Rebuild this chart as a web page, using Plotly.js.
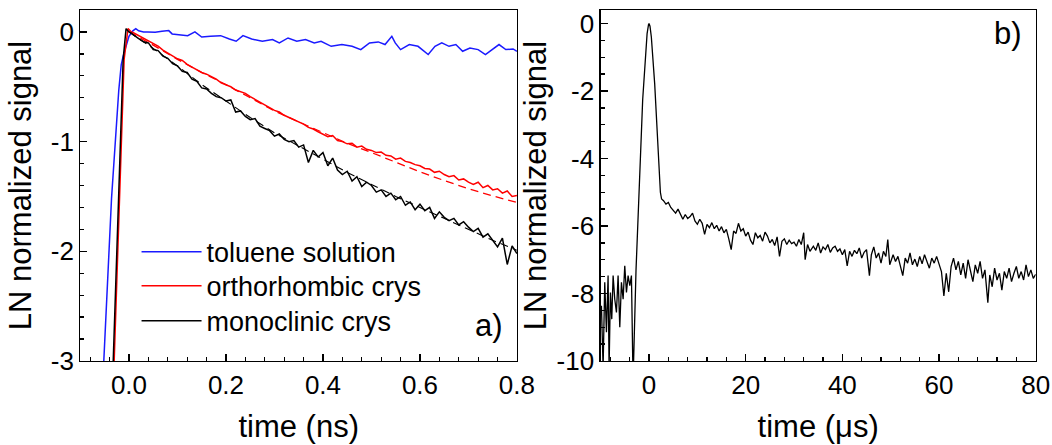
<!DOCTYPE html>
<html>
<head>
<meta charset="utf-8">
<script src="https://cdn.plot.ly/plotly-3.0.1.min.js"></script>
<style>html,body{margin:0;padding:0;background:#fff}#chart{width:1052px;height:445px}</style>
</head>
<body>
<div id="chart"></div>
<script>
// ---------- panel a) : time in ns ----------
var tolueneX = [-0.053,-0.036,-0.021,-0.016,-0.012,-0.006,0.0,0.008,0.014,0.02,0.03,0.039,0.054,0.068,0.082,0.089,0.103,0.121,0.136,0.15,0.168,0.189,0.207,0.221,0.235,0.253,0.275,0.296,0.31,0.328,0.346,0.364,0.382,0.396,0.417,0.439,0.46,0.478,0.496,0.514,0.528,0.542,0.549,0.56,0.578,0.596,0.617,0.631,0.645,0.66,0.674,0.688,0.703,0.72,0.735,0.749,0.763,0.777,0.792,0.8];
var tolueneY = [-3.1,-1.52,-0.53,-0.3,-0.22,-0.12,-0.04,0.01,0.03,0.01,0.0,0.0,-0.002,0.006,0.012,-0.018,-0.025,-0.034,0.0,-0.046,-0.04,-0.034,-0.064,-0.085,-0.034,-0.064,-0.085,-0.07,-0.1,-0.055,-0.085,-0.07,-0.1,-0.085,-0.131,-0.115,-0.131,-0.161,-0.1,-0.091,-0.115,-0.04,-0.1,-0.161,-0.115,-0.131,-0.206,-0.131,-0.1,-0.131,-0.115,-0.176,-0.146,-0.161,-0.206,-0.161,-0.115,-0.161,-0.155,-0.176];

var orthoX = [-0.032,-0.010,-0.002,0.005,0.01,0.02,0.03,0.04,0.05,0.06,0.07,0.08,0.09,0.10,0.11,0.12,0.13,0.14,0.15,0.16,0.17,0.18,0.19,0.20,0.21,0.22,0.23,0.24,0.25,0.26,0.27,0.28,0.29,0.30,0.31,0.32,0.33,0.34,0.35,0.36,0.37,0.38,0.39,0.40,0.41,0.42,0.43,0.44,0.45,0.46,0.47,0.48,0.49,0.50,0.51,0.52,0.53,0.54,0.55,0.56,0.57,0.58,0.59,0.60,0.61,0.62,0.63,0.64,0.65,0.66,0.67,0.68,0.69,0.70,0.71,0.72,0.73,0.74,0.75,0.76,0.77,0.78,0.79,0.80];
var orthoY = [-3.2,-0.25,0.03,0.0,-0.01,-0.035,-0.06,-0.085,-0.11,-0.13,-0.165,-0.19,-0.215,-0.245,-0.26,-0.295,-0.32,-0.345,-0.37,-0.385,-0.41,-0.43,-0.465,-0.48,-0.50,-0.53,-0.545,-0.56,-0.59,-0.615,-0.64,-0.66,-0.69,-0.715,-0.73,-0.76,-0.78,-0.80,-0.825,-0.84,-0.87,-0.885,-0.91,-0.93,-0.955,-0.945,-0.99,-1.00,-1.02,-1.015,-1.05,-1.04,-1.07,-1.08,-1.10,-1.095,-1.125,-1.13,-1.16,-1.15,-1.18,-1.19,-1.21,-1.22,-1.245,-1.25,-1.28,-1.27,-1.30,-1.32,-1.31,-1.35,-1.34,-1.37,-1.39,-1.37,-1.42,-1.40,-1.44,-1.43,-1.47,-1.45,-1.50,-1.49];

var orthoFitX = [0.0,0.05,0.1,0.15,0.2,0.25,0.3,0.35,0.4,0.45,0.5,0.55,0.6,0.65,0.7,0.75,0.8];
var orthoFitY = [0.0,-0.12,-0.25,-0.37,-0.48,-0.60,-0.72,-0.82,-0.92,-1.015,-1.10,-1.19,-1.275,-1.355,-1.43,-1.495,-1.555];

var monoX = [-0.034,-0.012,-0.006,0.0,0.005,0.01,0.02,0.03,0.04,0.05,0.06,0.07,0.08,0.09,0.10,0.11,0.12,0.13,0.14,0.15,0.16,0.17,0.18,0.19,0.20,0.21,0.22,0.23,0.24,0.25,0.26,0.27,0.28,0.29,0.30,0.31,0.32,0.33,0.34,0.35,0.36,0.37,0.38,0.39,0.40,0.41,0.42,0.43,0.44,0.45,0.46,0.47,0.48,0.49,0.50,0.51,0.52,0.53,0.54,0.55,0.56,0.57,0.58,0.59,0.60,0.61,0.62,0.63,0.64,0.65,0.66,0.67,0.68,0.69,0.70,0.71,0.72,0.73,0.74,0.75,0.76,0.77,0.78,0.79,0.80];
var monoY = [-3.2,-0.25,0.03,0.0,-0.01,-0.03,-0.06,-0.09,-0.10,-0.16,-0.17,-0.22,-0.24,-0.29,-0.31,-0.36,-0.37,-0.43,-0.45,-0.51,-0.52,-0.56,-0.59,-0.60,-0.63,-0.62,-0.73,-0.72,-0.77,-0.80,-0.79,-0.86,-0.88,-0.90,-0.95,-0.93,-0.98,-1.00,-0.99,-1.05,-1.03,-1.19,-1.08,-1.14,-1.10,-1.22,-1.15,-1.26,-1.30,-1.27,-1.36,-1.32,-1.41,-1.37,-1.40,-1.46,-1.44,-1.50,-1.47,-1.53,-1.50,-1.58,-1.55,-1.62,-1.57,-1.63,-1.60,-1.70,-1.64,-1.69,-1.72,-1.70,-1.76,-1.73,-1.78,-1.82,-1.79,-1.87,-1.84,-1.90,-1.96,-1.88,-2.12,-1.95,-2.02];

var monoFitX = [0.0,0.05,0.1,0.15,0.2,0.25,0.3,0.35,0.4,0.45,0.5,0.55,0.6,0.65,0.7,0.75,0.8];
var monoFitY = [0.0,-0.15,-0.31,-0.48,-0.63,-0.78,-0.92,-1.04,-1.16,-1.28,-1.39,-1.50,-1.60,-1.70,-1.80,-1.90,-1.99];

// ---------- panel b) : time in microseconds ----------
var longX = [-9.85,-9.5,-9.16,-8.81,-8.47,-8.26,-7.99,-7.71,-7.43,-7.09,-6.74,-6.4,-6.05,-5.71,-5.36,-5.02,-4.67,-4.33,-3.98,-3.64,-3.3,-2.69,-1.31,-0.4,-0.1,0.0,0.2,0.48,1.17,1.86,2.35,2.6,
 3.0,3.5,4.0,4.5,5.0,5.5,6.0,6.5,7.0,7.5,8.0,8.5,9.0,9.5,10.0,10.5,11.0,11.5,12.0,12.5,13.0,13.5,14.0,14.5,15.0,15.5,16.0,16.5,17.0,17.5,18.0,18.5,19.0,19.5,20.0,20.5,21.0,21.5,22.0,22.5,23.0,23.5,24.0,24.5,25.0,25.5,26.0,26.5,27.0,27.5,28.0,28.5,29.0,29.5,30.0,30.5,31.0,31.5,32.0,32.3,32.8,33.3,34.0,34.5,35.0,35.5,36.0,36.5,37.0,37.5,38.0,38.5,39.0,39.5,40.0,40.5,41.0,41.5,42.0,42.5,43.0,43.5,44.0,44.5,45.0,45.6,46.0,46.5,47.0,47.5,48.0,48.5,49.0,49.4,49.8,50.5,51.0,51.5,52.0,52.5,53.0,53.5,54.0,54.5,55.0,55.5,56.0,56.5,57.0,57.5,58.0,58.5,59.0,59.5,60.0,60.5,61.0,61.5,62.0,62.5,63.0,63.5,64.0,64.5,65.0,65.5,66.0,66.5,67.0,67.5,68.0,68.5,69.0,69.5,70.1,70.5,71.0,71.5,72.0,72.5,73.0,73.5,74.0,74.5,75.0,75.5,76.0,76.5,77.0,77.5,78.0,78.5,79.0,79.5,80.0];
var longY = [-8.36,-10.2,-7.67,-9.15,-7.47,-10.2,-7.97,-8.76,-7.47,-8.17,-8.56,-7.47,-9.0,-7.67,-8.17,-7.18,-7.97,-7.47,-7.77,-7.47,-10.6,-7.3,-2.25,-0.3,-0.03,0.0,-0.08,-0.4,-1.78,-3.73,-5.0,-5.2,
 -5.25,-5.35,-5.30,-5.45,-5.55,-5.62,-5.50,-5.68,-5.80,-5.66,-5.78,-5.72,-5.62,-5.85,-5.95,-5.80,-5.92,-6.25,-5.95,-6.05,-5.90,-6.08,-5.98,-6.15,-6.02,-6.20,-6.10,-6.38,-6.70,-6.15,-6.22,-5.92,-6.15,-6.08,-6.30,-6.18,-6.42,-6.55,-6.20,-6.35,-6.28,-6.45,-6.18,-6.30,-6.50,-6.40,-6.58,-6.32,-6.90,-6.45,-6.38,-6.55,-6.42,-6.52,-6.48,-6.60,-6.40,-6.55,-6.20,-7.00,-6.55,-6.75,-6.60,-6.72,-6.50,-6.80,-6.62,-6.70,-6.55,-6.78,-6.65,-6.60,-6.75,-6.68,-6.85,-6.70,-7.18,-6.75,-6.90,-6.72,-6.82,-6.65,-6.95,-6.78,-6.70,-7.47,-6.85,-6.62,-6.95,-6.80,-7.10,-6.75,-6.90,-6.40,-7.15,-6.85,-7.05,-6.90,-7.20,-7.47,-6.95,-7.10,-6.80,-7.15,-6.98,-7.20,-6.90,-7.12,-6.85,-7.05,-7.25,-6.95,-7.10,-6.90,-7.15,-7.35,-8.07,-7.40,-7.95,-7.20,-6.95,-7.30,-7.05,-7.45,-7.10,-7.55,-7.00,-7.35,-7.65,-7.15,-7.40,-7.05,-7.55,-7.30,-8.27,-7.45,-7.80,-7.25,-7.60,-7.40,-7.90,-7.35,-7.55,-7.25,-7.65,-7.40,-7.20,-7.55,-7.35,-7.60,-7.15,-7.50,-7.30,-7.55,-7.43];

// ---------- tick labels ----------
var axTickValsA = [0, 0.2, 0.4, 0.6, 0.8];
var axTickTextA = ['0.0', '0.2', '0.4', '0.6', '0.8'];
var ayTickValsA = [-3, -2, -1, 0];
var ayTickTextA = ['-3', '-2', '-1', '0'];
var axTickValsB = [0, 20, 40, 60, 80];
var axTickTextB = ['0', '20', '40', '60', '80'];
var ayTickValsB = [-10, -8, -6, -4, -2, 0];
var ayTickTextB = ['-10', '-8', '-6', '-4', '-2', '0'];

var seriesNames = ['toluene solution', 'orthorhombic crys', 'monoclinic crys'];

var FONT = 'Liberation Sans, Arial, sans-serif';

var traces = [
  {x: tolueneX, y: tolueneY, name: seriesNames[0], type: 'scatter', mode: 'lines', legend: 'legend',
   line: {color: '#1a1aff', width: 1.5}, xaxis: 'x', yaxis: 'y'},
  {x: orthoFitX, y: orthoFitY, name: 'fit ortho', showlegend: false, type: 'scatter', mode: 'lines',
   line: {color: '#ff0000', width: 1.3, dash: '8px,5px'}, xaxis: 'x', yaxis: 'y'},
  {x: orthoX, y: orthoY, name: seriesNames[1], type: 'scatter', mode: 'lines', legend: 'legend2',
   line: {color: '#ff0000', width: 1.5}, xaxis: 'x', yaxis: 'y'},
  {x: monoFitX, y: monoFitY, name: 'fit mono', showlegend: false, type: 'scatter', mode: 'lines',
   line: {color: '#000000', width: 1.1, dash: '8px,5px'}, xaxis: 'x', yaxis: 'y'},
  {x: monoX, y: monoY, name: seriesNames[2], type: 'scatter', mode: 'lines', legend: 'legend3',
   line: {color: '#000000', width: 1.5}, xaxis: 'x', yaxis: 'y'},
  {x: longX, y: longY, name: 'long', showlegend: false, type: 'scatter', mode: 'lines',
   line: {color: '#000000', width: 1.3}, xaxis: 'x2', yaxis: 'y2'}
];

function axisBase() {
  return {
    showline: true, mirror: true, linecolor: '#000', linewidth: 1.3,
    showgrid: false, zeroline: false,
    ticks: 'inside', ticklen: 7, tickwidth: 1.3, tickcolor: '#000',
    tickfont: {family: FONT, size: 26, color: '#000'},
    fixedrange: true
  };
}

var xa = Object.assign(axisBase(), {
  domain: [0.0765, 0.4914], range: [-0.1, 0.8], anchor: 'y',
  tickmode: 'array', tickvals: axTickValsA, ticktext: axTickTextA,
  minor: {ticks: 'inside', ticklen: 4, tickwidth: 1.3, tickcolor: '#000', tickmode: 'linear', tick0: 0, dtick: 0.04},
  title: {text: 'time (ns)', font: {family: FONT, size: 31, color: '#000'}, standoff: 16}
});
var ya = Object.assign(axisBase(), {
  domain: [0, 1], range: [-3, 0.2], anchor: 'x',
  tickmode: 'array', tickvals: ayTickValsA, ticktext: ayTickTextA,
  minor: {ticks: 'inside', ticklen: 4, tickwidth: 1.3, tickcolor: '#000', tickmode: 'linear', tick0: 0, dtick: 0.2},
  title: {text: 'LN normalized signal', font: {family: FONT, size: 31, color: '#000'}, standoff: 10}
});
var xb = Object.assign(axisBase(), {
  domain: [0.5710, 0.9845], range: [-10, 80], anchor: 'y2',
  tickmode: 'array', tickvals: axTickValsB, ticktext: axTickTextB,
  minor: {ticks: 'inside', ticklen: 4, tickwidth: 1.3, tickcolor: '#000', tickmode: 'linear', tick0: 0, dtick: 4},
  title: {text: 'time (\u03bcs)', font: {family: FONT, size: 31, color: '#000'}, standoff: 16}
});
var yb = Object.assign(axisBase(), {
  domain: [0, 1], range: [-10, 0.4], anchor: 'x2',
  tickmode: 'array', tickvals: ayTickValsB, ticktext: ayTickTextB,
  minor: {ticks: 'inside', ticklen: 4, tickwidth: 1.3, tickcolor: '#000', tickmode: 'linear', tick0: 0, dtick: 0.5},
  title: {text: 'LN normalized signal', font: {family: FONT, size: 31, color: '#000'}, standoff: 0}
});

function legendAt(yTop) {
  return {x: 0.1298, y: yTop, xanchor: 'left', yanchor: 'top', bgcolor: 'rgba(0,0,0,0)',
          borderwidth: 0, font: {family: FONT, size: 27, color: '#000'}, itemwidth: 60,
          traceorder: 'normal', tracegroupgap: 0};
}

var layout = {
  width: 1052, height: 445,
  margin: {l: 0, r: 0, t: 10, b: 84, pad: 0},
  paper_bgcolor: '#fff', plot_bgcolor: '#fff',
  font: {family: FONT, color: '#000'},
  xaxis: xa, yaxis: ya, xaxis2: xb, yaxis2: yb,
  showlegend: true,
  legend: legendAt(0.380),
  legend2: legendAt(0.283),
  legend3: legendAt(0.1835),
  annotations: [
    {text: 'a)', xref: 'x', yref: 'y', x: 0.775, y: -2.68, showarrow: false, xanchor: 'right', yanchor: 'middle',
     font: {family: FONT, size: 31, color: '#000'}},
    {text: 'b)', xref: 'x2', yref: 'y2', x: 77.5, y: -0.3, showarrow: false, xanchor: 'right', yanchor: 'middle',
     font: {family: FONT, size: 31, color: '#000'}}
  ]
};

Plotly.newPlot('chart', traces, layout, {displayModeBar: false, staticPlot: true});
</script>
</body>
</html>
